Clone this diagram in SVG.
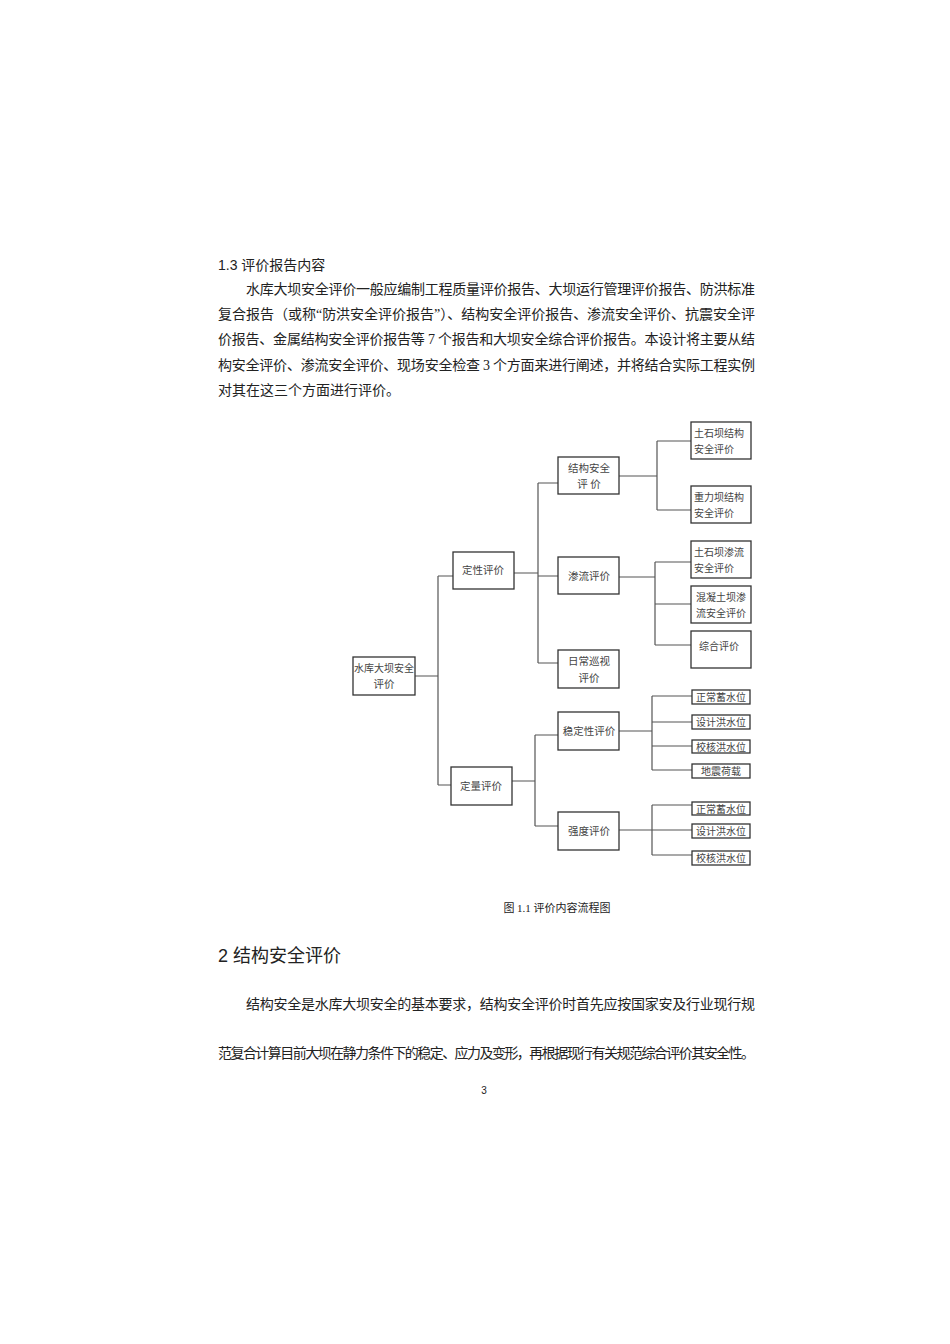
<svg xmlns="http://www.w3.org/2000/svg" width="950" height="1344" viewBox="0 0 950 1344">
<style>
.t{font-family:"Liberation Serif","Noto Sans CJK SC",serif;fill:#222}
.h{font-family:"Liberation Sans","Noto Sans CJK SC",sans-serif;fill:#222}
.b rect{fill:#fff;stroke:#333;stroke-width:1.3}
.b text{font-family:"Noto Sans CJK SC",sans-serif;font-size:10.5px;fill:#444;text-anchor:middle}
.b .s text{font-size:10px}
#conn path{fill:none;stroke:#555;stroke-width:1.2}
</style>
<rect width="950" height="1344" fill="#fff"/>
<text class="h" x="218" y="270" font-size="14">1.3  评价报告内容</text>
<g class="t" font-size="14">
<text x="246" y="294" textLength="509">水库大坝安全评价一般应编制工程质量评价报告、大坝运行管理评价报告、防洪标准</text>
<text x="218" y="319" textLength="537">复合报告（或称“防洪安全评价报告”）、结构安全评价报告、渗流安全评价、抗震安全评</text>
<text x="218" y="344" textLength="537">价报告、金属结构安全评价报告等 7 个报告和大坝安全综合评价报告。本设计将主要从结</text>
<text x="218" y="370" textLength="537">构安全评价、渗流安全评价、现场安全检查 3 个方面来进行阐述，并将结合实际工程实例</text>
<text x="218" y="395">对其在这三个方面进行评价。</text>
</g>
<g id="conn">
<path d="M415 676H438M438 576V785M438 576H453M438 785H451"/>
<path d="M514 573H538M538 483V663M538 483H558M538 576H558M538 663H558"/>
<path d="M619 476H657M657 441V510M657 441H691M657 510H691"/>
<path d="M619 577H655M655 562V645M655 562H691M655 604H691M655 645H691"/>
<path d="M512 781H535M535 735V826M535 735H558M535 826H558"/>
<path d="M619 731H652M652 696V770M652 696H692M652 722H692M652 746H692M652 770H692"/>
<path d="M619 830H652M652 805V855M652 805H692M652 830H692M652 855H692"/>
</g>
<g class="b">
<g id="root"><rect x="353" y="657" width="62" height="38"/><text x="384" y="672" font-size="10" style="font-size:10px">水库大坝安全</text><text x="384" y="688">评价</text></g>
<g id="dingxing"><rect x="453" y="552" width="61" height="37"/><text x="483" y="574">定性评价</text></g>
<g id="jiegou"><rect x="558" y="457" width="61" height="37"/><text x="589" y="472">结构安全</text><text x="589" y="488">评 价</text></g>
<g id="shenliu"><rect x="558" y="557" width="61" height="37"/><text x="589" y="580">渗流评价</text></g>
<g id="richang"><rect x="558" y="650" width="61" height="38"/><text x="589" y="665">日常巡视</text><text x="589" y="682">评价</text></g>
<g class="s">
<g id="tsjg"><rect x="691" y="422" width="60" height="37"/><text x="719" y="437">土石坝结构</text><text x="714" y="453">安全评价</text></g>
<g id="zljg"><rect x="691" y="486" width="60" height="37"/><text x="719" y="501">重力坝结构</text><text x="714" y="517">安全评价</text></g>
<g id="tssl"><rect x="691" y="541" width="60" height="37"/><text x="719" y="556">土石坝渗流</text><text x="714" y="572">安全评价</text></g>
<g id="hntsl"><rect x="691" y="586" width="60" height="37"/><text x="721" y="601">混凝土坝渗</text><text x="721" y="617">流安全评价</text></g>
<g id="zonghe"><rect x="691" y="631" width="60" height="37"/><text x="719" y="650">综合评价</text></g>
</g>
<g id="dingliang"><rect x="451" y="767" width="61" height="38"/><text x="481" y="790">定量评价</text></g>
<g id="wending"><rect x="558" y="712" width="61" height="38"/><text x="589" y="735">稳定性评价</text></g>
<g id="qiangdu"><rect x="558" y="812" width="61" height="38"/><text x="589" y="835">强度评价</text></g>
<g class="s">
<g id="w1"><rect x="692" y="690" width="58" height="14"/><text x="721" y="701">正常蓄水位</text></g>
<g id="w2"><rect x="692" y="715" width="58" height="14"/><text x="721" y="726">设计洪水位</text></g>
<g id="w3"><rect x="692" y="740" width="58" height="13"/><text x="721" y="751">校核洪水位</text></g>
<g id="w4"><rect x="692" y="764" width="58" height="14"/><text x="721" y="775">地震荷载</text></g>
<g id="q1"><rect x="692" y="802" width="58" height="13"/><text x="721" y="813">正常蓄水位</text></g>
<g id="q2"><rect x="692" y="824" width="58" height="14"/><text x="721" y="835">设计洪水位</text></g>
<g id="q3"><rect x="692" y="851" width="58" height="14"/><text x="721" y="862">校核洪水位</text></g>
</g>
</g>
<text class="t" x="557" y="912" font-size="11" text-anchor="middle">图 1.1 评价内容流程图</text>
<text class="h" x="218" y="962" font-size="18">2 结构安全评价</text>
<g class="t" font-size="14">
<text x="246" y="1009" textLength="509">结构安全是水库大坝安全的基本要求，结构安全评价时首先应按国家安及行业现行规</text>
<text x="218" y="1058" textLength="537">范复合计算目前大坝在静力条件下的稳定、应力及变形，再根据现行有关规范综合评价其安全性。</text>
</g>
<text class="h" x="484" y="1094" font-size="10" text-anchor="middle">3</text>
</svg>
